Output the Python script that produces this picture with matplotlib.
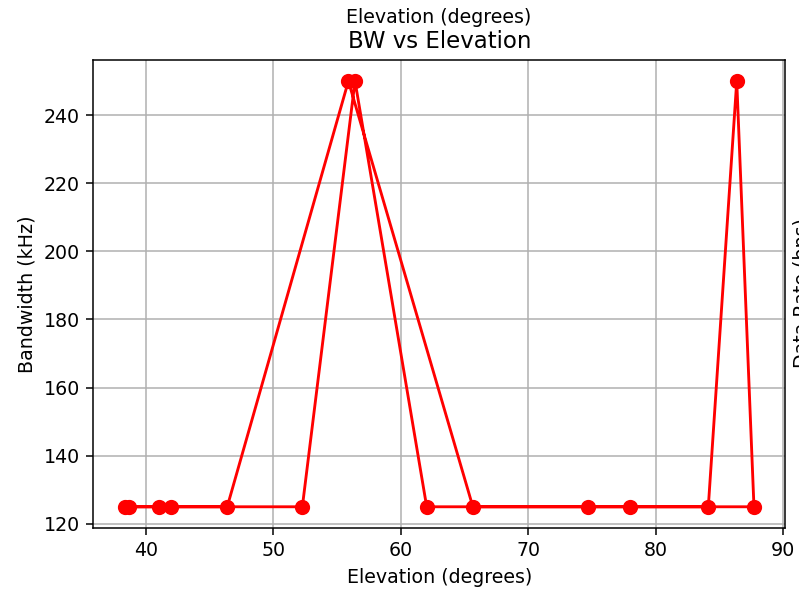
import matplotlib
matplotlib.use("Agg")
import numpy as np
from matplotlib import pyplot as plt

# elevation along the pass (rising then setting) and the bandwidth chosen at each step
elevation = [38.37, 41.02, 46.39, 55.89, 65.65, 74.65, 84.11, 86.34, 87.69,
             77.94, 62.03, 56.41, 52.28, 42.01, 38.69]
bandwidth = [125, 125, 125, 250, 125, 125, 125, 250, 125,
             125, 125, 250, 125, 125, 125]

DPI = 137
fig = plt.figure(figsize=(799 / DPI, 592 / DPI), dpi=DPI)
ax = fig.add_axes([0.117, 0.108, 0.866, 0.791])

ax.plot(np.array(elevation), np.array(bandwidth), color='red', marker='o',
        markersize=7, linewidth=1.5)
ax.set_xlabel('Elevation (degrees)')
ax.set_ylabel('Bandwidth (kHz)')
ax.set_title('BW vs Elevation')
ax.grid(True)

# labels belonging to the neighbouring panels
fig.text(0.549, 0.971, 'Elevation (degrees)', ha='center', va='center')
fig.text(0.993, 0.505, 'Data Rate (bps)', ha='left', va='center', rotation=90)

fig.savefig('out.png', dpi=DPI)
